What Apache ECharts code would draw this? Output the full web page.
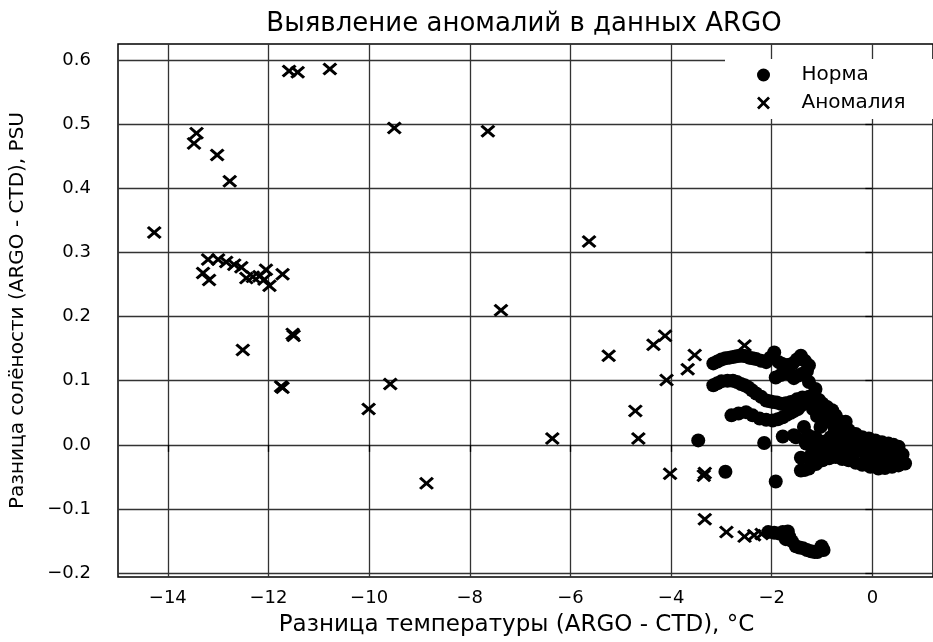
<!DOCTYPE html>
<html>
<head>
<meta charset="utf-8">
<script src="https://cdn.jsdelivr.net/npm/echarts@6/dist/echarts.min.js"></script>
<style>
  html, body { margin: 0; padding: 0; background: #fff; }
  #chart { width: 933px; height: 642px; }
</style>
</head>
<body>
<div id="chart"></div>
<script>
// тики осей
var xTicks = [-14, -12, -10, -8, -6, -4, -2, 0];
var yTicks = [-0.2, -0.1, 0.0, 0.1, 0.2, 0.3, 0.4, 0.5, 0.6];

// норма: [dT, dS]
var normPoints = [
    // верхняя цепочка
    [-3.16, 0.127], [-3.08, 0.130], [-3.00, 0.133], [-2.92, 0.135], [-2.84, 0.136],
    [-2.77, 0.137], [-2.70, 0.138], [-2.63, 0.139], [-2.57, 0.139], [-2.51, 0.138],
    [-2.45, 0.136], [-2.38, 0.135], [-2.31, 0.134], [-2.21, 0.131], [-2.11, 0.129],
    [-2.03, 0.136], [-1.95, 0.144], [-1.86, 0.129], [-1.79, 0.126], [-1.72, 0.124],
    [-1.65, 0.125], [-1.58, 0.127], [-1.50, 0.133], [-1.42, 0.139], [-1.34, 0.131],
    [-1.26, 0.124], [-1.30, 0.115], [-1.39, 0.111], [-1.47, 0.108], [-1.56, 0.104],
    [-1.64, 0.110], [-1.72, 0.113], [-1.82, 0.109], [-1.92, 0.105], [-1.26, 0.098],
    [-1.13, 0.087],
    // средняя цепочка и основное облако
    [-3.16, 0.093], [-3.08, 0.096], [-3.00, 0.099], [-2.88, 0.100], [-2.77, 0.100],
    [-2.69, 0.098], [-2.61, 0.095], [-2.54, 0.093], [-2.47, 0.090], [-2.39, 0.085],
    [-2.31, 0.080], [-2.21, 0.075], [-2.11, 0.069], [-2.04, 0.068], [-1.98, 0.067],
    [-1.90, 0.066], [-1.82, 0.064], [-1.72, 0.065], [-1.62, 0.067], [-1.50, 0.071],
    [-1.39, 0.074], [-1.26, 0.075], [-1.13, 0.074], [-1.06, 0.070], [-0.99, 0.064],
    [-0.90, 0.059], [-0.80, 0.054], [-0.73, 0.046], [-0.67, 0.038], [-0.57, 0.030],
    [-0.47, 0.023], [-0.33, 0.017], [-0.20, 0.012], [-0.07, 0.010], [0.06, 0.007],
    [0.19, 0.004], [0.32, 0.002], [0.42, 0.000], [0.52, -0.003], [0.60, -0.015],
    [0.65, -0.029], [0.52, -0.032], [0.39, -0.034], [0.25, -0.036], [0.12, -0.037],
    [-0.04, -0.034], [-0.20, -0.031], [-0.33, -0.028], [-0.47, -0.024], [-0.60, -0.022],
    [-0.73, -0.019], [-0.86, -0.021], [-0.99, -0.024], [-1.12, -0.030], [-1.26, -0.037],
    [-1.34, -0.039], [-1.42, -0.040],
    // нижняя цепочка
    [-2.80, 0.046], [-2.66, 0.049], [-2.51, 0.051], [-2.38, 0.046], [-2.24, 0.041],
    [-2.11, 0.039], [-1.98, 0.038], [-1.88, 0.040], [-1.78, 0.043], [-1.70, 0.047],
    [-1.62, 0.050], [-1.55, 0.053], [-1.48, 0.056], [-1.40, 0.062], [-1.30, 0.068],
    [-1.18, 0.056], [-1.05, 0.058], [-0.95, 0.050], [-1.10, 0.045], [-0.95, 0.035],
    [-1.03, 0.028], [-0.83, 0.043], [-0.75, 0.025], [-0.83, 0.012], [-0.53, 0.036],
    [-0.55, 0.015], [-0.63, 0.012], [-0.63, 0.000], [-0.70, 0.003], [-0.85, -0.005],
    [-0.50, 0.002], [-0.43, -0.006], [-0.34, 0.005], [-0.25, -0.003], [-0.18, -0.011],
    [0.00, -0.008], [0.06, -0.016], [0.20, -0.012], [0.36, -0.019], [0.45, -0.012],
    [-0.10, -0.022], [0.15, -0.025], [0.40, -0.026], [-0.40, -0.015], [-0.65, -0.010],
    [-0.93, -0.006], [-0.97, 0.005], [-1.03, -0.011], [-1.15, -0.005], [-1.13, 0.012],
    [-1.28, 0.015], [-1.32, 0.002], [-1.36, 0.028], [-1.22, -0.016], [-1.42, -0.020],
    [-1.20, -0.028], [-1.52, 0.012],
    // отдельные точки
    [-3.46, 0.007], [-2.15, 0.003], [-2.92, -0.042], [-1.92, -0.057], [-1.78, 0.013],
    [-1.56, 0.015],
    // группа около -0.15
    [-2.07, -0.136], [-1.95, -0.137], [-1.86, -0.138], [-1.78, -0.136], [-1.68, -0.135],
    [-1.72, -0.147], [-1.65, -0.143], [-1.60, -0.150], [-1.52, -0.158], [-1.45, -0.160],
    [-1.38, -0.161], [-1.30, -0.164], [-1.22, -0.166], [-1.15, -0.167], [-1.09, -0.167],
    [-1.03, -0.163], [-0.97, -0.164], [-1.01, -0.158]
];

// аномалии
var anomalyPoints = [
    [-14.27, 0.331], [-13.43, 0.486], [-13.48, 0.470], [-13.02, 0.452], [-12.77, 0.411],
    [-11.59, 0.583], [-11.42, 0.581], [-10.78, 0.586], [-9.50, 0.494],
    [-13.20, 0.289], [-13.30, 0.268], [-13.18, 0.257], [-13.00, 0.289], [-12.84, 0.285],
    [-12.68, 0.281], [-12.54, 0.277], [-12.44, 0.260], [-12.31, 0.262], [-12.18, 0.263],
    [-12.05, 0.273], [-12.08, 0.258], [-11.98, 0.248], [-11.72, 0.266],
    [-12.51, 0.148], [-11.52, 0.173], [-11.50, 0.170], [-11.75, 0.091], [-11.72, 0.089],
    [-9.58, 0.095], [-10.01, 0.056],
    [-7.64, 0.489], [-5.63, 0.317], [-7.38, 0.210],
    [-8.86, -0.060], [-6.36, 0.010], [-5.24, 0.139], [-4.71, 0.053], [-4.65, 0.010],
    [-4.02, -0.045], [-4.09, 0.101], [-4.35, 0.156], [-4.12, 0.170], [-3.67, 0.118],
    [-3.53, 0.140], [-2.54, 0.155],
    [-3.33, -0.044], [-3.35, -0.048], [-3.33, -0.116], [-2.90, -0.136], [-2.54, -0.143],
    [-2.35, -0.141], [-2.20, -0.139]
];

var crossPath = 'path://M0,1.5 L1.5,0 L5,3.5 L8.5,0 L10,1.5 L6.5,5 L10,8.5 L8.5,10 L5,6.5 L1.5,10 L0,8.5 L3.5,5 Z';

function minus(s) {
    return String(s).replace('-', '\u2212');
}

var myChart = echarts.init(document.getElementById('chart'));
var font = 'DejaVu Sans';

var option = {
    backgroundColor: '#fff',
    animation: false,
    textStyle: {fontFamily: font, color: '#000'},
    title: {
        text: 'Выявление аномалий в данных ARGO',
        left: 519,
        textAlign: 'center',
        top: 6,
        textStyle: {fontFamily: font, fontSize: 26, fontWeight: 'normal', color: '#000'}
    },
    legend: {
        orient: 'vertical',
        left: 725,
        top: 59,
        padding: [6, 40, 6, 32],
        itemGap: 8,
        itemWidth: 54,
        itemHeight: 13,
        backgroundColor: '#fff',
        textStyle: {fontFamily: font, fontSize: 20, color: '#000', padding: [0, 0, 0, 6]},
        data: [
            {name: 'Норма', icon: 'circle'},
            {name: 'Аномалия', icon: crossPath}
        ]
    },
    grid: {
        left: 118,
        right: -5,
        top: 44,
        bottom: 62,
        show: true,
        borderColor: '#000',
        borderWidth: 1.5
    },
    xAxis: {
        type: 'value',
        min: -14.99,
        max: 1.205,
        name: 'Разница температуры (ARGO - CTD), °C',
        nameLocation: 'middle',
        nameGap: 37,
        nameTextStyle: {fontFamily: font, fontSize: 23, color: '#000', padding: [0, 18, 0, 0]},
        axisLine: {show: false},
        axisTick: {show: true, inside: false, length: 7, lineStyle: {color: '#000', width: 1.3}, customValues: xTicks},
        axisLabel: {
            customValues: xTicks,
            fontFamily: font, fontSize: 18, color: '#000', margin: 12,
            formatter: function (v) { return minus(v); }
        },
        splitLine: {show: true, lineStyle: {color: '#333', width: 1.3}}
    },
    yAxis: {
        type: 'value',
        min: -0.206,
        max: 0.625,
        name: 'Разница солёности (ARGO - CTD), PSU',
        nameLocation: 'middle',
        nameGap: 90,
        nameTextStyle: {fontFamily: font, fontSize: 20, color: '#000'},
        axisLine: {show: false},
        axisTick: {show: true, inside: false, length: 7, lineStyle: {color: '#000', width: 1.3}, customValues: yTicks},
        axisLabel: {
            customValues: yTicks,
            fontFamily: font, fontSize: 18, color: '#000', margin: 27,
            formatter: function (v) { return minus(v.toFixed(1)); }
        },
        splitLine: {show: true, lineStyle: {color: '#333', width: 1.3}}
    },
    series: [
        {
            name: 'Норма',
            type: 'scatter',
            symbol: 'circle',
            symbolSize: 14,
            itemStyle: {color: '#000', opacity: 1},
            data: normPoints
        },
        {
            name: 'Аномалия',
            type: 'scatter',
            symbol: crossPath,
            symbolSize: [15, 13],
            itemStyle: {color: '#000', opacity: 1},
            data: anomalyPoints
        }
    ]
};
myChart.setOption(option);
</script>
</body>
</html>
